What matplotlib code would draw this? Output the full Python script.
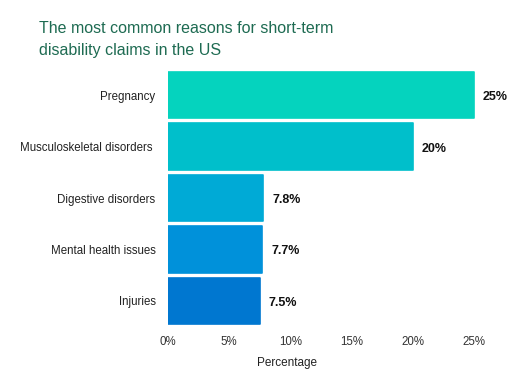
import matplotlib
matplotlib.use("Agg")
import matplotlib.pyplot as plt

categories = ["Pregnancy", "Musculoskeletal disorders ", "Digestive disorders",
              "Mental health issues", "Injuries"]
values = [25, 20, 7.8, 7.7, 7.5]
value_labels = ["25%", "20%", "7.8%", "7.7%", "7.5%"]
colors = ["#05D3BE", "#00BFCB", "#00AAD6", "#0091DA", "#0077D0"]
xticks = [0, 5, 10, 15, 20, 25]
xtick_labels = ["0%", "5%", "10%", "15%", "20%", "25%"]

plt.rcParams['font.family'] = ['Liberation Sans', 'DejaVu Sans']

W, H = 512, 384
fig = plt.figure(figsize=(W / 100, H / 100), dpi=100)
xmax = 27.0
px_per_unit = (474 - 168) / 25.0
left_px = 168
right_px = left_px + xmax * px_per_unit
top_px, bot_px = 69.4, 326.6
ax = fig.add_axes([left_px / W, 1 - bot_px / H, (right_px - left_px) / W, (bot_px - top_px) / H])

ypos = list(range(len(categories)))
ax.barh(ypos, values, height=0.9, color=colors, edgecolor=colors, linewidth=1.2,
        joinstyle='round')
ax.set_ylim(len(categories) - 0.5, -0.5)
ax.set_xlim(0, xmax)

for y, v, lab in zip(ypos, values, value_labels):
    off = 9 / px_per_unit
    ax.text(v + off, y + 0.04, lab, va='center', ha='left', fontsize=9,
            fontweight='bold', color='#111111')

ax.set_yticks(ypos)
ax.set_yticklabels(categories, fontsize=8.3, color='#222222')
ax.set_xticks(xticks)
ax.set_xticklabels(xtick_labels, fontsize=8.3, color='#333333')
ax.tick_params(axis='both', length=0)
ax.tick_params(axis='y', pad=9)
ax.tick_params(axis='x', pad=7)
for s in ax.spines.values():
    s.set_visible(False)

ax.set_xlabel("Percentage", fontsize=8.5, color='#222222')
ax.xaxis.set_label_coords(((287 - 168) / px_per_unit) / xmax, -0.12)

fig.text(39 / W, 1 - 21 / H, "The most common reasons for short-term\ndisability claims in the US",
         ha='left', va='top', fontsize=11.5, color='#1E6B52', linespacing=1.6)

fig.savefig("out.png", dpi=100)
